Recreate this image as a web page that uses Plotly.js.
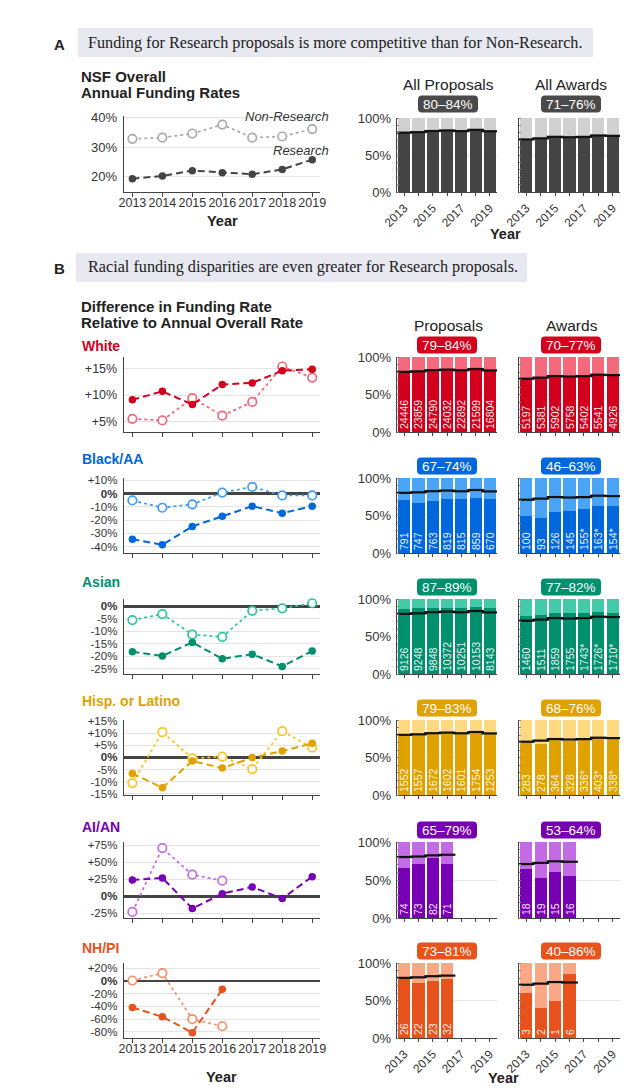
<!DOCTYPE html>
<html><head><meta charset="utf-8">
<script src="https://cdn.plot.ly/plotly-3.0.1.min.js"></script>
<style>html,body{margin:0;padding:0;background:#fff}#chart{width:640px;height:1090px}</style>
</head><body><div id="chart"></div><script>
// ---------------- DATA ----------------
const years = [2013, 2014, 2015, 2016, 2017, 2018, 2019];
const barTickText = ['2013', '', '2015', '', '2017', '', '2019'];
const lineTickText = ['2013', '2014', '2015', '2016', '2017', '2018', '2019'];

// Panel A: overall annual funding rates (%)
const overallNonResearchRate = [32.8, 33.2, 34.6, 37.6, 33.2, 33.6, 36.1];
const overallResearchRate = [19.4, 20.3, 22.1, 21.4, 20.9, 22.5, 25.8];
const aTickVals = [20, 30, 40];
const aTickText = ['20%', '30%', '40%'];
// Research share of all proposals / awards (%)
const allProposalsResearchShare = [80.2, 80.9, 82.4, 83.2, 82.3, 84.0, 82.1];
const allAwardsResearchShare = [71.0, 72.5, 74.6, 74.0, 74.5, 76.4, 75.9];
const allProposalsBadge = '80–84%';
const allAwardsBadge = '71–76%';

// White
const whiteResearchDiff = [9.1, 10.7, 8.2, 12.0, 12.3, 14.6, 14.9];
const whiteNonResearchDiff = [5.5, 5.2, 9.4, 6.1, 8.7, 15.4, 13.3];
const whiteProposalShare = [79.4, 80.6, 82.1, 83.0, 82.0, 83.8, 81.8];
const whiteAwardShare = [70.2, 72.0, 75.0, 74.0, 74.3, 76.6, 75.8];
const whiteProposalCounts = ['24446', '23859', '24790', '24032', '22892', '21599', '16804'];
const whiteAwardCounts = ['5197', '5381', '5902', '5758', '5402', '5541', '4926'];
const whiteBadges = ['79–84%', '70–77%'];
const whiteTickVals = [5, 10, 15];
const whiteTickText = ['+5%', '+10%', '+15%'];

// Black/AA
const blackResearchDiff = [-34.5, -38.6, -24.8, -17.1, -9.5, -14.8, -9.5];
const blackNonResearchDiff = [-5.2, -10.7, -8.1, 0.7, 5.0, -1.4, -1.4];
const blackProposalShare = [70.5, 67.0, 69.5, 72.5, 72.0, 74.0, 72.0];
const blackAwardShare = [49.5, 46.2, 54.5, 55.5, 58.5, 62.5, 63.0];
const blackProposalCounts = ['791', '747', '763', '819', '815', '859', '670'];
const blackAwardCounts = ['100', '93', '126', '145', '155*', '163*', '154*'];
const blackBadges = ['67–74%', '46–63%'];
const blackTickVals = [10, 0, -10, -20, -30, -40];
const blackTickText = ['+10%', '<b>0%</b>', '-10%', '-20%', '-30%', '-40%'];

// Asian
const asianResearchDiff = [-18.1, -19.8, -14.4, -20.9, -19.1, -24.0, -17.8];
const asianNonResearchDiff = [-5.5, -3.1, -11.3, -12.2, -1.8, -0.8, 1.2];
const asianProposalShare = [87.0, 87.5, 88.0, 88.5, 88.0, 89.0, 88.0];
const asianAwardShare = [77.2, 78.2, 81.5, 80.8, 80.8, 82.2, 81.5];
const asianProposalCounts = ['9126', '9248', '9848', '10372', '10251', '10153', '8143'];
const asianAwardCounts = ['1460', '1511', '1859', '1755', '1743*', '1726*', '1710*'];
const asianBadges = ['87–89%', '77–82%'];
const asianTickVals = [0, -5, -10, -15, -20, -25];
const asianTickText = ['<b>0%</b>', '-5%', '-10%', '-15%', '-20%', '-25%'];

// Hisp. or Latino
const hispResearchDiff = [-6.6, -12.5, -1.5, -4.4, -0.1, 2.6, 5.8];
const hispNonResearchDiff = [-10.6, 10.4, -0.4, 0.3, -4.8, 10.8, 4.0];
const hispProposalShare = [79.2, 80.0, 82.0, 82.8, 81.5, 83.2, 81.3];
const hispAwardShare = [69.5, 68.0, 74.0, 72.0, 73.0, 76.0, 75.0];
const hispProposalCounts = ['1552', '1557', '1672', '1602', '1601', '1754', '1253'];
const hispAwardCounts = ['283', '278', '364', '328', '336*', '403*', '338*'];
const hispBadges = ['79–83%', '68–76%'];
const hispTickVals = [15, 10, 5, 0, -5, -10, -15];
const hispTickText = ['+15%', '+10%', '+5%', '<b>0%</b>', '-5%', '-10%', '-15%'];

// AI/AN
const aianResearchDiff = [24, 27, -18, 3.9, 13.7, -3.4, 28.9];
const aianNonResearchDiff = [-23, 71, 31.9, 23];
const aianProposalShare = [65.3, 70.5, 79.0, 71.5];
const aianAwardShare = [64.0, 53.0, 60.0, 55.5];
const aianProposalCounts = ['74', '73', '82', '71'];
const aianAwardCounts = ['18', '19', '15', '16'];
const aianBadges = ['65–79%', '53–64%'];
const aianTickVals = [75, 50, 25, 0, -25];
const aianTickText = ['+75%', '+50%', '+25%', '<b>0%</b>', '-25%'];

// NH/PI
const nhpiResearchDiff = [-41.6, -56.3, -81, -13.2];
const nhpiNonResearchDiff = [0.5, 12, -60, -71];
const nhpiProposalShare = [80.6, 73.0, 76.5, 78.5];
const nhpiAwardShare = [60.0, 40.0, 50.0, 86.0];
const nhpiProposalCounts = ['26', '22', '23', '32'];
const nhpiAwardCounts = ['3', '2', '1', '6'];
const nhpiBadges = ['73–81%', '40–86%'];
const nhpiTickVals = [20, 0, -20, -40, -60, -80];
const nhpiTickText = ['+20%', '<b>0%</b>', '-20%', '-40%', '-60%', '-80%'];

// ---------------- LAYOUT HELPERS ----------------
const W = 640, H = 1090;
const fx = p => p / W;
const fy = p => 1 - p / H;
const FONT = 'Liberation Sans, Arial, Helvetica, sans-serif';
const SERIF = 'Liberation Serif, Times New Roman, serif';
const AXC = '#444';
const GRID = '#e4e4e4';

const traces = [];
const layout = {
  width: W, height: H,
  margin: {l: 0, r: 0, t: 0, b: 0},
  paper_bgcolor: '#fff', plot_bgcolor: 'rgba(0,0,0,0)',
  showlegend: false, hovermode: false,
  barmode: 'stack', bargap: 0.15,
  font: {family: FONT, color: '#333', size: 12},
  annotations: [], shapes: []
};
let axN = 0;
function newAxes(x0, x1, y0, y1, xo, yo) {
  axN++;
  const s = axN === 1 ? '' : String(axN);
  layout['xaxis' + s] = Object.assign({domain: [fx(x0), fx(x1)], anchor: 'y' + s, fixedrange: true}, xo);
  layout['yaxis' + s] = Object.assign({domain: [fy(y1), fy(y0)], anchor: 'x' + s, fixedrange: true}, yo);
  return {x: 'x' + s, y: 'y' + s};
}
function text(x, y, t, size, opts) {
  layout.annotations.push(Object.assign({
    xref: 'paper', yref: 'paper', x: fx(x), y: fy(y), text: t, showarrow: false,
    xanchor: 'left', yanchor: 'middle', font: {family: FONT, size: size, color: '#222'}
  }, opts || {}));
}
function roundRect(cx, cy, w, h, r, color) {
  const x0 = cx - w / 2, x1 = cx + w / 2, y0 = cy - h / 2, y1 = cy + h / 2;
  const P = (x, y) => fx(x) + ',' + fy(y);
  const path = 'M' + P(x0 + r, y0) + ' L' + P(x1 - r, y0) + ' Q' + P(x1, y0) + ' ' + P(x1, y0 + r) +
    ' L' + P(x1, y1 - r) + ' Q' + P(x1, y1) + ' ' + P(x1 - r, y1) +
    ' L' + P(x0 + r, y1) + ' Q' + P(x0, y1) + ' ' + P(x0, y1 - r) +
    ' L' + P(x0, y0 + r) + ' Q' + P(x0, y0) + ' ' + P(x0 + r, y0) + ' Z';
  layout.shapes.push({type: 'path', xref: 'paper', yref: 'paper', path: path, fillcolor: color, line: {width: 0}, layer: 'above'});
}
function badge(cx, cy, label, color) {
  roundRect(cx, cy, 60, 17, 4, color);
  text(cx, cy + 0.5, label, 13.5, {xanchor: 'center', font: {family: FONT, size: 13.5, color: '#fff'}});
}

const LX0 = 124, LX1 = 320;      // line chart x-extent
const PX0 = 397, PX1 = 497;      // proposals bars
const AX0 = 519, AX1 = 620;      // awards bars

function lineChart(top, bottom, range, tv, tt, research, nonResearch, dark, light, showX, zero, tickSize) {
  const a = newAxes(LX0, LX1, top, bottom, {
    range: [2012.72, 2019.26], tickvals: years, ticktext: lineTickText, showticklabels: showX, tickangle: 0,
    ticks: 'outside', ticklen: 4, tickcolor: AXC, tickwidth: 1, showline: true, linecolor: AXC, linewidth: 1.3,
    showgrid: false, zeroline: false, tickfont: {family: FONT, size: 12.5, color: '#333'}, ticklabelstandoff: -5
  }, {
    range: range, tickvals: tv, ticktext: tt, showgrid: true, gridcolor: GRID, gridwidth: 1,
    showline: true, linecolor: AXC, linewidth: 1.3, ticks: '', ticklabelstandoff: 3,
    zeroline: zero, zerolinecolor: AXC, zerolinewidth: 2.6, tickfont: {size: tickSize, color: '#333'}
  });
  traces.push({
    type: 'scatter', mode: 'lines+markers', x: years.slice(0, nonResearch.length), y: nonResearch,
    xaxis: a.x, yaxis: a.y, cliponaxis: false,
    line: {color: light, width: 1.7, dash: 'dot'},
    marker: {symbol: 'circle', size: 8.5, color: '#fff', line: {color: light, width: 1.7}}
  });
  traces.push({
    type: 'scatter', mode: 'lines+markers', x: years.slice(0, research.length), y: research,
    xaxis: a.x, yaxis: a.y, cliponaxis: false,
    line: {color: dark, width: 2, dash: '7px,4px'},
    marker: {symbol: 'circle', size: 7.5, color: dark}
  });
}

function barChart(x0, x1, top, bottom, share, overall, counts, dark, light, showY, showX) {
  const a = newAxes(x0, x1, top, bottom, {
    range: [2012.5, 2019.5], tickvals: years, ticktext: barTickText, showticklabels: showX, tickangle: -45,
    ticks: 'outside', ticklen: 3, tickcolor: AXC, showline: true, linecolor: AXC, linewidth: 1.3,
    showgrid: false, zeroline: false, tickfont: {family: FONT, size: 12, color: '#333'}
  }, {
    range: [0, 100], tickvals: [0, 50, 100], ticktext: ['0%', '50%', '100%'], showticklabels: showY,
    showgrid: true, gridcolor: GRID, showline: true, linecolor: AXC, linewidth: 1.3, ticks: '',
    minor: {dtick: 10, ticks: 'inside', ticklen: 2, tickcolor: '#888', showgrid: false},
    zeroline: false, tickfont: {size: 13, color: '#333'}, ticklabelstandoff: 2
  });
  const n = share.length;
  const xs = years.slice(0, n);
  traces.push({
    type: 'bar', x: xs, y: share, xaxis: a.x, yaxis: a.y, marker: {color: dark, line: {width: 0}},
    text: counts, textposition: 'inside', insidetextanchor: 'start', textangle: -90,
    textfont: {family: FONT, size: 10.5, color: 'rgba(255,255,255,0.92)'}, constraintext: 'none'
  });
  traces.push({
    type: 'bar', x: xs, y: share.map(v => 100 - v), xaxis: a.x, yaxis: a.y,
    marker: {color: light, line: {width: 0}}
  });
  traces.push({
    type: 'scatter', mode: 'markers', x: xs, y: overall.slice(0, n), xaxis: a.x, yaxis: a.y,
    marker: {symbol: 'line-ew', size: 12, line: {width: 2.2, color: '#111'}}
  });
}

// ---------------- PANEL A ----------------
layout.shapes.push({type: 'rect', xref: 'paper', yref: 'paper', x0: fx(78), x1: fx(593), y0: fy(57), y1: fy(28),
  fillcolor: '#e7e8f0', line: {width: 0}, layer: 'below'});
text(52, 44, '<b>A</b>', 15);
text(86, 43, 'Funding for Research proposals is more competitive than for Non-Research.', 16.2,
  {font: {family: SERIF, size: 16.2, color: '#222'}});
text(79, 76, '<b>NSF Overall</b>', 15);
text(79, 92, '<b>Annual Funding Rates</b>', 15);

lineChart(116, 192, [14.9, 40.5], aTickVals, aTickText, overallResearchRate, overallNonResearchRate,
  '#444', '#aaa', true, false, 13);
text(331, 117, '<i>Non-Research</i>', 13, {xanchor: 'right', font: {family: FONT, size: 13, color: '#333'}});
text(331, 150, '<i>Research</i>', 13, {xanchor: 'right', font: {family: FONT, size: 13, color: '#333'}});
text(222, 221, '<b>Year</b>', 14.5, {xanchor: 'center'});

barChart(PX0, PX1, 118, 192, allProposalsResearchShare, allProposalsResearchShare, [], '#444', '#d0d0d0', true, true);
barChart(AX0, AX1, 118, 192, allAwardsResearchShare, allAwardsResearchShare, [], '#444', '#d0d0d0', false, true);
text(448, 84, 'All Proposals', 15.5, {xanchor: 'center'});
text(571, 84, 'All Awards', 15.5, {xanchor: 'center'});
badge(448, 104, allProposalsBadge, '#4a4a4a');
badge(571, 104, allAwardsBadge, '#4a4a4a');
text(505, 234, '<b>Year</b>', 14.5, {xanchor: 'center'});

// ---------------- PANEL B ----------------
layout.shapes.push({type: 'rect', xref: 'paper', yref: 'paper', x0: fx(76), x1: fx(527), y0: fy(282), y1: fy(253),
  fillcolor: '#e7e8f0', line: {width: 0}, layer: 'below'});
text(52, 268, '<b>B</b>', 15);
text(86, 267, 'Racial funding disparities are even greater for Research proposals.', 16.2,
  {font: {family: SERIF, size: 16.2, color: '#222'}});
text(79, 307, '<b>Difference in Funding Rate</b>', 15);
text(79, 323, '<b>Relative to Annual Overall Rate</b>', 15);
text(448, 325, 'Proposals', 15.5, {xanchor: 'center'});
text(572, 325, 'Awards', 15.5, {xanchor: 'center'});

const rows = [
  {name: 'White', r: whiteResearchDiff, nr: whiteNonResearchDiff, ps: whiteProposalShare, as: whiteAwardShare,
   pc: whiteProposalCounts, ac: whiteAwardCounts, badges: whiteBadges, tv: whiteTickVals, tt: whiteTickText,
   dark: '#d3001d', light: '#f5697c', lineLight: '#f3667a', top: 357, bottom: 432, range: [3.0, 17.2], labelY: 346},
  {name: 'Black/AA', r: blackResearchDiff, nr: blackNonResearchDiff, ps: blackProposalShare, as: blackAwardShare,
   pc: blackProposalCounts, ac: blackAwardCounts, badges: blackBadges, tv: blackTickVals, tt: blackTickText,
   dark: '#0068dc', light: '#4aa4f6', lineLight: '#3d9cf5', top: 478, bottom: 553, range: [-44.8, 11.7], labelY: 459},
  {name: 'Asian', r: asianResearchDiff, nr: asianNonResearchDiff, ps: asianProposalShare, as: asianAwardShare,
   pc: asianProposalCounts, ac: asianAwardCounts, badges: asianBadges, tv: asianTickVals, tt: asianTickText,
   dark: '#00906e', light: '#42caa9', lineLight: '#2ec4a2', top: 599, bottom: 674, range: [-27.0, 2.9], labelY: 582},
  {name: 'Hisp. or Latino', r: hispResearchDiff, nr: hispNonResearchDiff, ps: hispProposalShare, as: hispAwardShare,
   pc: hispProposalCounts, ac: hispAwardCounts, badges: hispBadges, tv: hispTickVals, tt: hispTickText,
   dark: '#e0a200', light: '#ffd97f', lineLight: '#ffc41a', top: 720, bottom: 795, range: [-15.5, 15.4], labelY: 701},
  {name: 'AI/AN', r: aianResearchDiff, nr: aianNonResearchDiff, ps: aianProposalShare, as: aianAwardShare,
   pc: aianProposalCounts, ac: aianAwardCounts, badges: aianBadges, tv: aianTickVals, tt: aianTickText,
   dark: '#7800b4', light: '#c46ae6', lineLight: '#c46ae6', top: 842, bottom: 918, range: [-32, 80], labelY: 827},
  {name: 'NH/PI', r: nhpiResearchDiff, nr: nhpiNonResearchDiff, ps: nhpiProposalShare, as: nhpiAwardShare,
   pc: nhpiProposalCounts, ac: nhpiAwardCounts, badges: nhpiBadges, tv: nhpiTickVals, tt: nhpiTickText,
   dark: '#e8531d', light: '#f9a784', lineLight: '#f58f66', top: 963, bottom: 1038, range: [-89.4, 27.9], labelY: 948}
];

rows.forEach((rw, i) => {
  const last = i === rows.length - 1;
  text(80, rw.labelY, '<b>' + rw.name + '</b>', 14, {font: {family: FONT, size: 14, color: rw.dark}});
  lineChart(rw.top, rw.bottom, rw.range, rw.tv, rw.tt, rw.r, rw.nr, rw.dark, rw.lineLight, last, i > 0, i === 0 ? 12.5 : 11.5);
  barChart(PX0, PX1, rw.top, rw.bottom, rw.ps, allProposalsResearchShare, rw.pc, rw.dark, rw.light, true, last);
  barChart(AX0, AX1, rw.top, rw.bottom, rw.as, allAwardsResearchShare, rw.ac, rw.dark, rw.light, false, last);
  badge(447, rw.top - 12, rw.badges[0], rw.dark);
  badge(571, rw.top - 12, rw.badges[1], rw.dark);
});
text(221, 1077, '<b>Year</b>', 14.5, {xanchor: 'center'});
text(503, 1078, '<b>Year</b>', 14.5, {xanchor: 'center'});

Plotly.newPlot('chart', traces, layout, {staticPlot: true, displayModeBar: false});
</script></body></html>
